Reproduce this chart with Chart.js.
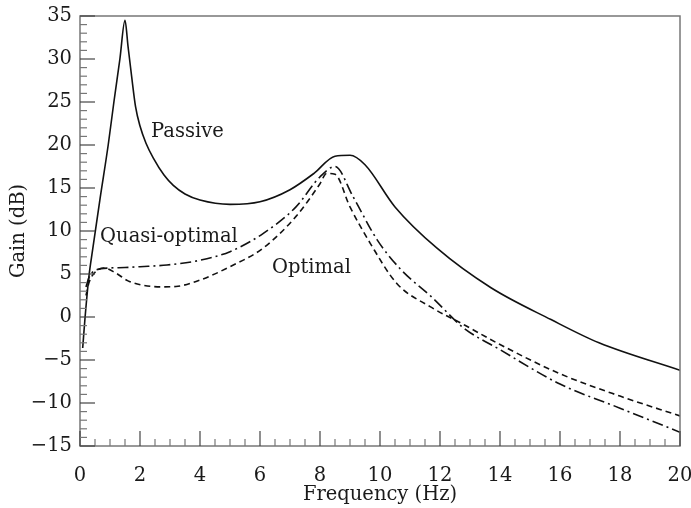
<!DOCTYPE html>
<html>
<head>
<meta charset="utf-8">
<script src="https://cdn.jsdelivr.net/npm/chart.js@4/dist/chart.umd.min.js"></script>
<style>
  body { margin: 0; background: #fff; }
  canvas { display: block; }
</style>
</head>
<body>
<canvas id="gainChart" width="691" height="508"></canvas>
<script>
// values (frequency in Hz, gain in dB)
const passiveHz = [0.09, 0.17, 0.3, 0.42, 0.67, 0.94, 1.13, 1.33, 1.5, 1.6, 1.72, 1.85, 2.0, 2.2, 2.44, 2.8, 3.11, 3.5, 4.0, 5.0, 6.0, 7.0, 7.8, 8.5, 9.0, 9.5, 10.5, 11.9, 13.7, 15.7, 17.3, 20];
const passiveDb = [-3.6, 0, 4.8, 7.8, 13.8, 20, 25, 30, 34.5, 31.5, 28, 24.5, 22.2, 20.2, 18.5, 16.5, 15.3, 14.3, 13.6, 13.1, 13.4, 14.8, 16.7, 18.7, 18.8, 17.7, 12.8, 8.0, 3.4, -0.3, -3.0, -6.2];

const quasiHz = [0.2, 0.3, 0.45, 0.7, 1.0, 1.5, 2.0, 2.9, 4.0, 5.0, 6.1, 7.2, 8.0, 8.5, 9.1, 9.9, 10.7, 11.7, 12.8, 14.0, 16.0, 18.0, 20];
const quasiDb = [3.5, 4.6, 5.3, 5.6, 5.7, 5.75, 5.85, 6.05, 6.6, 7.6, 9.7, 12.8, 16.3, 17.5, 14.0, 9.0, 5.5, 2.4, -1.3, -3.8, -7.8, -10.6, -13.4];

const optimalHz = [0.2, 0.3, 0.5, 0.8, 1.2, 1.6, 2.1, 2.7, 3.2, 4.0, 5.0, 6.1, 7.2, 8.0, 8.22, 8.5, 9.0, 9.67, 10.56, 11.67, 12.8, 14.0, 16.0, 18.0, 20];
const optimalDb = [2.5, 4.0, 5.2, 5.7, 5.1, 4.2, 3.7, 3.5, 3.55, 4.3, 5.85, 8.0, 11.7, 15.5, 16.7, 16.6, 12.8, 8.6, 3.9, 1.2, -0.9, -3.2, -6.6, -9.2, -11.5];

const xTicks = [0, 2, 4, 6, 8, 10, 12, 14, 16, 18, 20];
const yTicks = [-15, -10, -5, 0, 5, 10, 15, 20, 25, 30, 35];

// curve names written on the plot, placed in data units
const curveLabels = [
    { text: "Passive", x: 2.37, y: 21.5 },
    { text: "Quasi-optimal", x: 0.67, y: 9.3 },
    { text: "Optimal", x: 6.4, y: 5.7 }
];

const fontFam = "'DejaVu Serif', serif";
const fontPx = 19.5;

const toPoints = (xs, ys) => xs.map((x, i) => ({ x: x, y: ys[i] }));

const serie = (label, xs, ys, dash) => ({
    label: label,
    data: toPoints(xs, ys),
    borderColor: "#111",
    borderWidth: 1.6,
    borderDash: dash,
    pointRadius: 0,
    fill: false,
    cubicInterpolationMode: "monotone"
});

const minus = (v) => String(v).replace("-", "\u2212");

// frame, inward ticks and the curve names
const framePlugin = {
    id: "frame",
    afterDraw: (chart) => {
        const ctx = chart.ctx;
        const a = chart.chartArea;
        const xs = chart.scales.x;
        const ys = chart.scales.y;
        ctx.save();
        ctx.strokeStyle = "#777";
        ctx.lineWidth = 1.5;
        ctx.strokeRect(a.left, a.top, a.right - a.left, a.bottom - a.top);

        ctx.lineWidth = 1.2;
        for (let v = xTicks[0]; v <= xTicks[xTicks.length - 1]; v += 0.5) {
            const px = xs.getPixelForValue(v);
            const major = xTicks.includes(v);
            ctx.strokeStyle = major ? "#444" : "#777";
            ctx.beginPath();
            ctx.moveTo(px, a.bottom);
            ctx.lineTo(px, a.bottom - (major ? 15 : 7));
            ctx.stroke();
        }
        for (let v = yTicks[0]; v <= yTicks[yTicks.length - 1]; v += 1) {
            const py = ys.getPixelForValue(v);
            const major = yTicks.includes(v);
            ctx.strokeStyle = major ? "#444" : "#777";
            ctx.beginPath();
            ctx.moveTo(a.left, py);
            ctx.lineTo(a.left + (major ? 15 : 7), py);
            ctx.stroke();
        }

        ctx.fillStyle = "#1a1a1a";
        ctx.font = fontPx + "px " + fontFam;
        ctx.textAlign = "left";
        ctx.textBaseline = "middle";
        curveLabels.forEach(l => {
            ctx.fillText(l.text, xs.getPixelForValue(l.x), ys.getPixelForValue(l.y));
        });
        ctx.restore();
    }
};

const config = {
    type: "line",
    data: {
        datasets: [
            serie("Passive", passiveHz, passiveDb, []),
            serie("Quasi-optimal", quasiHz, quasiDb, [11, 4, 2, 4]),
            serie("Optimal", optimalHz, optimalDb, [6, 4])
        ]
    },
    options: {
        responsive: false,
        animation: false,
        layout: { padding: { top: 16, right: 11, left: 0, bottom: 0 } },
        plugins: { legend: { display: false }, tooltip: { enabled: false } },
        scales: {
            x: {
                type: "linear",
                min: 0,
                max: 20,
                afterFit: (s) => { s.height = 62; s.paddingLeft = 0; s.paddingRight = 0; },
                afterBuildTicks: (s) => { s.ticks = xTicks.map(v => ({ value: v })); },
                grid: { display: false, drawTicks: false },
                border: { display: false },
                ticks: {
                    color: "#1a1a1a",
                    padding: 18,
                    maxRotation: 0,
                    font: { family: fontFam, size: fontPx }
                },
                title: {
                    display: true,
                    text: "Frequency (Hz)",
                    color: "#1a1a1a",
                    font: { family: fontFam, size: fontPx },
                    padding: { top: 0, bottom: 1 }
                }
            },
            y: {
                min: -15,
                max: 35,
                afterFit: (s) => { s.width = 80; s.paddingTop = 0; s.paddingBottom = 0; },
                afterBuildTicks: (s) => { s.ticks = yTicks.map(v => ({ value: v })); },
                grid: { display: false, drawTicks: false },
                border: { display: false },
                ticks: {
                    color: "#1a1a1a",
                    padding: 8,
                    font: { family: fontFam, size: fontPx },
                    callback: (v) => minus(v)
                },
                title: {
                    display: true,
                    text: "Gain (dB)",
                    color: "#1a1a1a",
                    font: { family: fontFam, size: fontPx },
                    padding: { top: 7, bottom: 0 }
                }
            }
        }
    },
    plugins: [framePlugin]
};

new Chart(document.getElementById("gainChart"), config);
</script>
</body>
</html>
